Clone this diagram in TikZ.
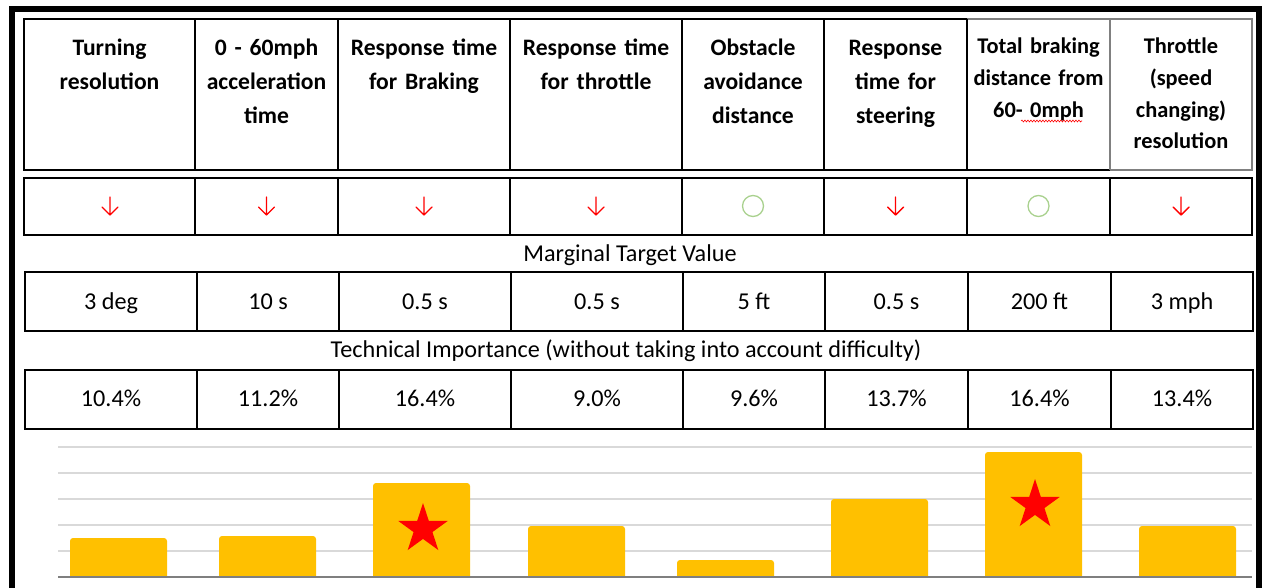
\documentclass[tikz,border=0pt]{standalone}
\usepackage{fontspec}
\setmainfont{Carlito}
\usetikzlibrary{shapes.geometric,decorations.pathmorphing}
\definecolor{barcol}{HTML}{FFC000}
\definecolor{gridcol}{HTML}{D9D9D9}
\definecolor{axiscol}{HTML}{7F7F7F}
\definecolor{okgreen}{HTML}{A9D18E}
\definecolor{cellgray}{HTML}{808080}
\tikzset{
  rule/.style={line width=2pt},
  head/.style={font=\bfseries\fontsize{23.6}{34}\selectfont, align=center, inner sep=0pt, text width=168pt, anchor=base},
  headsmall/.style={head, font=\bfseries\fontsize{22.4}{31.6}\selectfont, text width=140pt},
  cellval/.style={font=\fontsize{24.2}{28}\selectfont, inner sep=0pt, anchor=base},
  caption/.style={font=\fontsize{24.2}{28}\selectfont, inner sep=0pt, anchor=base},
  ok/.style={circle, draw=okgreen, line width=1.3pt, minimum size=21pt, inner sep=0pt},
  prio/.style={star, star points=5, star point ratio=2.618, fill=red, minimum size=52pt, inner sep=0pt},
  dnarrow/.pic={
    \draw[red, line width=1.4pt, line cap=round, line join=round]
      (0,-9) -- (0,9) (-8,1) -- (0,9) -- (8,1);
  }
}
\begin{document}
\begin{tikzpicture}[x=1pt,y=-1pt]
\useasboundingbox (0,0) rectangle (1265,588);
\fill[white] (0,0) rectangle (1265,588);

% outer frame
\draw[line width=6pt] (12,592) -- (12,9) -- (1259,9) -- (1259,592);

% header table
\draw[rule] (967,19) -- (24,19) -- (24,170) -- (1110,170);
\draw[line width=1.6pt, cellgray] (967,19) -- (1252,19) -- (1252,170) -- (1110,170);
\foreach \c in {195,338,510,682,824,967} \draw[rule] (\c,19) -- (\c,170);
\draw[line width=1.6pt, cellgray] (1110,19) -- (1110,170);

\node[head] (h1) at (109.5,56) {Turning\\resolution};
\node[head] (h2) at (266.5,56) {0 - 60mph\\acceleration\\time};
\node[head] (h3) at (424,56) {Response time\\for Braking};
\node[head] (h4) at (596,56) {Response time\\for throttle};
\node[head] (h5) at (753,56) {Obstacle\\avoidance\\distance};
\node[head] (h6) at (895.5,56) {Response\\time for\\steering};
\node[headsmall] (h7) at (1038.5,54) {Total braking\\distance from\\60- 0mph};
\node[headsmall] (h8) at (1181,54) {Throttle\\(speed\\changing)\\resolution};
\draw[red, line width=0.6pt, decorate, decoration={snake, amplitude=0.9pt, segment length=3pt}] (1021,121) -- (1082,121);

% direction row
\draw[rule] (24,178) rectangle (1252,235);
\foreach \c in {195,338,510,682,824,967,1110} \draw[rule] (\c,178) -- (\c,235);
\pic (a1) at (110,206) {dnarrow};
\pic (a2) at (266.5,206) {dnarrow};
\pic (a3) at (424,206) {dnarrow};
\pic (a4) at (596,206) {dnarrow};
\node[ok] (a5) at (753,206) {};
\pic (a6) at (895.5,206) {dnarrow};
\node[ok] (a7) at (1038.5,206) {};
\pic (a8) at (1181,206) {dnarrow};

% marginal target values
\node[caption] (mtv) at (630,261) {Marginal Target Value};
\draw[rule] (25,272) rectangle (1253,331);
\foreach \c in {197,339,511,683,825,968,1111} \draw[rule] (\c,272) -- (\c,331);
\node[cellval] (v1) at (111,309) {3 deg};
\node[cellval] (v2) at (268,309) {10 s};
\node[cellval] (v3) at (425,309) {0.5 s};
\node[cellval] (v4) at (597,309) {0.5 s};
\node[cellval] (v5) at (754,309) {5 ft};
\node[cellval] (v6) at (896.5,309) {0.5 s};
\node[cellval] (v7) at (1039.5,309) {200 ft};
\node[cellval] (v8) at (1182,309) {3 mph};

% technical importance
\node[caption] (tim) at (626,357) {Technical Importance (without taking into account difficulty)};
\draw[rule] (25,370) rectangle (1253,429);
\foreach \c in {197,339,511,683,825,968,1111} \draw[rule] (\c,370) -- (\c,429);
\node[cellval] (t1) at (111,406) {10.4\%};
\node[cellval] (t2) at (268,406) {11.2\%};
\node[cellval] (t3) at (425,406) {16.4\%};
\node[cellval] (t4) at (597,406) {9.0\%};
\node[cellval] (t5) at (754,406) {9.6\%};
\node[cellval] (t6) at (896.5,406) {13.7\%};
\node[cellval] (t7) at (1039.5,406) {16.4\%};
\node[cellval] (t8) at (1182,406) {13.4\%};

% bar chart
\foreach \g in {447,473,499,525,551} \draw[gridcol, line width=1.5pt] (58,\g) -- (1252,\g);
\begin{scope}
  \clip (0,0) rectangle (1265,577);
  \foreach \x/\t in {70/538,219/536,373/483,528/526,677/560,831/499,985/452,1139/526}
    \fill[barcol, rounded corners=3pt] (\x,\t) rectangle (\x+97,585);
\end{scope}
\draw[axiscol, line width=1.5pt] (58,577) -- (1252,577);
\node[prio] (s3) at (423,529) {};
\node[prio] (s7) at (1035,505) {};
\end{tikzpicture}
\end{document}
